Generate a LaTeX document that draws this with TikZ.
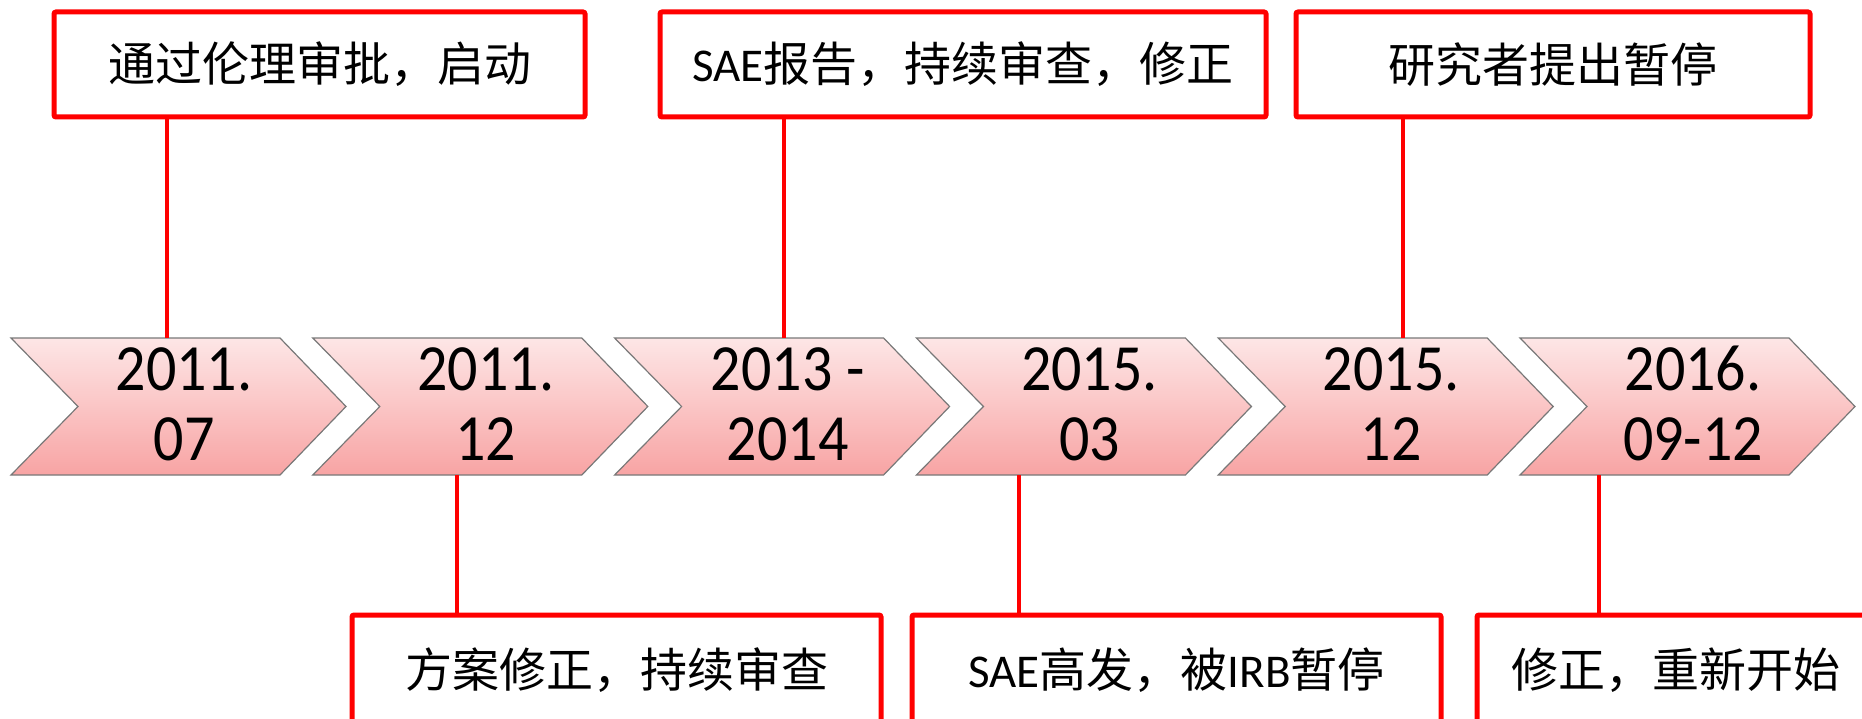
\documentclass[tikz,border=0pt]{standalone}
\usepackage{fontspec}
\usepackage{graphicx}
\setmainfont{Carlito}
\newfontfamily\cjk{Noto Sans CJK SC}
\definecolor{pinktop}{RGB}{253,230,230}
\definecolor{pinkbot}{RGB}{248,164,164}
\definecolor{chevline}{RGB}{120,120,120}
\newcommand{\tallyr}[1]{\scalebox{1}[1.1]{#1}}
\begin{document}
\begin{tikzpicture}[x=1pt,y=-1pt,
  evbox/.style={draw=red, line width=5pt, rounded corners=2pt, inner sep=0pt, fill=white,
    font=\fontsize{47}{56}\selectfont},
  chev/.style={draw=chevline, line width=1.2pt, top color=pinktop, bottom color=pinkbot},
  yr/.style={font=\fontsize{60}{70}\selectfont, anchor=base, inner sep=0pt},
  link/.style={draw=red, line width=4pt}]
\path[use as bounding box] (0,0) rectangle (1862,719);
\clip (0,0) rectangle (1862,719);
% chevrons with dates
\foreach \i/\a/\b in {0/2011./07, 1/2011./12, 2/{2013 -}/2014, 3/2015./03, 4/2015./12, 5/2016./09-12}{
  \pgfmathsetmacro\L{11+301.8*\i}
  \draw[chev] (\L,338) -- ++(269,0) -- ++(66,68.5) -- ++(-66,68.5) -- ++(-269,0) -- ++(67,-68.5) -- cycle;
  \node[yr] (ya\i) at (\L+173,390) {\tallyr{\a}};
  \node[yr] (yb\i) at (\L+173,460) {\tallyr{\b}};
}
% connector anchor points on chevrons
\coordinate (p1) at (167,338);
\coordinate (p2) at (784,338);
\coordinate (p3) at (1403,338);
\coordinate (q1) at (457,475);
\coordinate (q2) at (1019,475);
\coordinate (q3) at (1599,475);
% top boxes
\node[evbox, minimum width=531pt, minimum height=105pt] (tb1) at (319.5,64.5) {\cjk 通过伦理审批，启动};
\node[evbox, minimum width=606pt, minimum height=105pt] (tb2) at (963,64.5) {SAE{\cjk 报告，持续审查，修正}};
\node[evbox, minimum width=514pt, minimum height=105pt] (tb3) at (1553,64.5) {\cjk 研究者提出暂停};
% bottom boxes
\node[evbox, minimum width=529pt, minimum height=110pt] (bb1) at (616.5,670) {\cjk 方案修正，持续审查};
\node[evbox, minimum width=529pt, minimum height=110pt] (bb2) at (1176.5,670) {SAE{\cjk 高发，被}IRB{\cjk 暂停}};
\node[evbox, minimum width=398pt, minimum height=110pt] (bb3) at (1676,670) {\cjk 修正，重新开始};
% connectors
\draw[link] (tb1.south -| p1) -- (p1);
\draw[link] (tb2.south -| p2) -- (p2);
\draw[link] (tb3.south -| p3) -- (p3);
\draw[link] (q1) -- (q1 |- bb1.north);
\draw[link] (q2) -- (q2 |- bb2.north);
\draw[link] (q3) -- (q3 |- bb3.north);
\end{tikzpicture}
\end{document}
